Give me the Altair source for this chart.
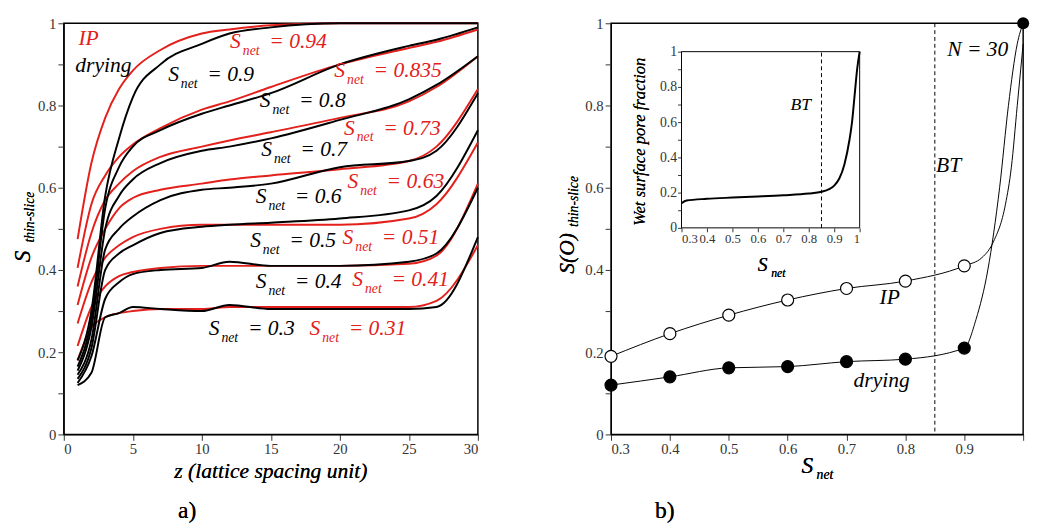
import altair as alt
import pandas as pd

# ---- panel a): S_thin-slice versus z
z = [1, 2, 3, 4, 5, 7, 10, 12, 15, 20, 25, 27, 30]
ip_curves = {
    "0.94": [0.475, 0.66, 0.77, 0.84, 0.885, 0.935, 0.975, 0.985, 0.995, 1, 1, 1, 1],
    "0.835": [0.405, 0.56, 0.63, 0.675, 0.705, 0.745, 0.79, 0.81, 0.845, 0.9, 0.94, 0.955, 0.985],
    "0.73": [0.36, 0.49, 0.57, 0.61, 0.64, 0.675, 0.70, 0.715, 0.735, 0.77, 0.81, 0.845, 0.92],
    "0.63": [0.315, 0.43, 0.5, 0.55, 0.575, 0.595, 0.61, 0.62, 0.63, 0.645, 0.665, 0.7, 0.84],
    "0.51": [0.27, 0.37, 0.43, 0.46, 0.48, 0.5, 0.51, 0.51, 0.51, 0.51, 0.525, 0.56, 0.71],
    "0.41": [0.215, 0.31, 0.36, 0.385, 0.395, 0.405, 0.41, 0.41, 0.41, 0.41, 0.415, 0.435, 0.61],
    "0.31": [0.18, 0.26, 0.285, 0.295, 0.3, 0.305, 0.305, 0.31, 0.31, 0.31, 0.31, 0.325, 0.46],
}
drying_curves = {
    "0.9": [0.18, 0.3, 0.58, 0.72, 0.82, 0.9, 0.95, 0.975, 0.99, 1, 1, 1, 1],
    "0.8": [0.165, 0.28, 0.55, 0.65, 0.7, 0.74, 0.78, 0.80, 0.83, 0.9, 0.945, 0.96, 0.99],
    "0.7": [0.155, 0.26, 0.5, 0.58, 0.62, 0.66, 0.69, 0.70, 0.72, 0.765, 0.815, 0.85, 0.92],
    "0.6": [0.145, 0.23, 0.45, 0.5, 0.53, 0.57, 0.595, 0.6, 0.61, 0.65, 0.665, 0.69, 0.83],
    "0.5": [0.135, 0.21, 0.4, 0.44, 0.46, 0.49, 0.505, 0.51, 0.515, 0.525, 0.545, 0.58, 0.74],
    "0.4": [0.125, 0.19, 0.33, 0.37, 0.39, 0.4, 0.405, 0.42, 0.41, 0.41, 0.42, 0.44, 0.6],
    "0.3": [0.12, 0.15, 0.285, 0.295, 0.31, 0.305, 0.3, 0.315, 0.305, 0.305, 0.305, 0.31, 0.48],
}
label_vals = ["0.94", "0.9", "0.835", "0.8", "0.73", "0.7", "0.63", "0.6",
              "0.51", "0.5", "0.41", "0.4", "0.31", "0.3"]
label_z = [12.05, 7.56, 19.6, 14.2, 20.3, 14.3, 20.55, 13.9, 20.2, 13.5, 20.9, 13.9, 17.8, 10.5]
label_s = [0.956, 0.877, 0.885, 0.813, 0.746, 0.694, 0.615, 0.579, 0.48, 0.472, 0.377, 0.373, 0.258, 0.258]
label_kind = ["IP", "drying"] * 7

# ---- panel b): S(O)_thin-slice versus S_net
s_net = [0.3, 0.4, 0.5, 0.6, 0.7, 0.8, 0.9]
ip_points = [0.19, 0.245, 0.29, 0.327, 0.355, 0.373, 0.41]
drying_points = [0.12, 0.14, 0.162, 0.165, 0.177, 0.183, 0.21]
ip_tail_x = [0.93, 0.95, 0.97, 0.98, 0.99, 1.0]
ip_tail_y = [0.43, 0.47, 0.56, 0.65, 0.8, 0.95]
dry_tail_x = [0.92, 0.94, 0.96, 0.975, 0.99, 1.0]
dry_tail_y = [0.28, 0.4, 0.6, 0.8, 0.95, 1.0]

# ---- inset: wet surface pore fraction
inset_x = [0.3, 0.32, 0.4, 0.5, 0.6, 0.7, 0.8, 0.85, 0.88, 0.9, 0.92, 0.94, 0.96, 0.97, 0.98, 0.99, 1.0]
inset_y = [0.14, 0.155, 0.165, 0.172, 0.178, 0.185, 0.195, 0.205, 0.22, 0.24, 0.28, 0.36, 0.5, 0.6, 0.75, 0.9, 1.0]

RED = "#e3201c"
SERIF = "'Liberation Serif', 'DejaVu Serif', serif"
W_A, H = 423, 420
W_B = 421
tick_label_expr = "abs(datum.value*10 - round(datum.value*5)*2) < 0.01 ? format(datum.value, '~g') : ''"


def y_axis(**kw):
    return alt.Axis(values=[i / 10 for i in range(11)], labelExpr=tick_label_expr,
                    title=None, grid=False, labelOverlap=False, labelFont=SERIF, **kw)


rows = []
for kind, curves in (("IP", ip_curves), ("drying", drying_curves)):
    for name, vals in curves.items():
        rows += [{"kind": kind, "curve": kind + name, "z": zz, "s": v} for zz, v in zip(z, vals)]
curves_df = pd.DataFrame(rows)
color = alt.Color("kind:N", scale=alt.Scale(domain=["IP", "drying"], range=[RED, "black"]), legend=None)

xa = alt.X("z:Q", scale=alt.Scale(domain=[0, 30]),
           axis=alt.Axis(values=[i * 2.5 for i in range(13)], labelOverlap=False, labelFont=SERIF,
                         labelExpr="datum.value % 5 == 0 ? datum.label : ''", title=None, grid=False))
ya = alt.Y("s:Q", scale=alt.Scale(domain=[0, 1]), axis=y_axis())

lines_a = alt.Chart(curves_df).mark_line(strokeWidth=2, interpolate="monotone").encode(
    x=xa, y=ya, color=color, detail="curve:N", order="z:Q")

lab_df = pd.DataFrame({"kind": label_kind, "z": label_z, "s": label_s,
                       "eq": ["= " + v for v in label_vals]})
lab_base = alt.Chart(lab_df).encode(x="z:Q", y="s:Q", color=color)
txt = dict(font=SERIF, fontStyle="italic", align="left", baseline="middle")
labels_a = (lab_base.mark_text(fontSize=22, text="S", **txt)
            + lab_base.mark_text(fontSize=14, text="net", dx=13, dy=10, **txt)
            + lab_base.mark_text(fontSize=22, dx=40, **txt).encode(text="eq:N"))

key_df = pd.DataFrame({"kind": ["IP", "drying"], "z": [1.06, 0.83], "s": [0.964, 0.897]})
key_a = alt.Chart(key_df).mark_text(fontSize=22, **txt).encode(
    x="z:Q", y="s:Q", color=color, text="kind:N")

deco = dict(font=SERIF, fontStyle="italic", color="black")
title_a = (
    alt.Chart(key_df).mark_text(text="z (lattice spacing unit)", fontSize=22, **deco)
    .encode(x=alt.value(W_A / 2), y=alt.value(H + 38))
    + alt.Chart(key_df).mark_text(text="S", fontSize=24, angle=270, **deco)
    .encode(x=alt.value(-42), y=alt.value(H / 2 + 28))
    + alt.Chart(key_df).mark_text(text="thin-slice", fontSize=14, angle=270, **deco)
    .encode(x=alt.value(-34), y=alt.value(H / 2 - 12))
    + alt.Chart(key_df).mark_text(text="a)", fontSize=24, font=SERIF, color="black")
    .encode(x=alt.value(126), y=alt.value(H + 78))
)
panel_a = (lines_a + labels_a + key_a + title_a).properties(width=W_A, height=H)

# ---- panel b
pts_df = pd.DataFrame({"x": s_net * 2, "y": ip_points + drying_points,
                       "kind": ["IP"] * 7 + ["drying"] * 7})
line_df = pd.DataFrame({
    "x": s_net + ip_tail_x + s_net + dry_tail_x,
    "y": ip_points + ip_tail_y + drying_points + dry_tail_y,
    "kind": ["IP"] * 13 + ["drying"] * 13,
})
xb = alt.X("x:Q", scale=alt.Scale(domain=[0.3, 1]),
           axis=alt.Axis(values=[0.3 + i * 0.05 for i in range(15)], labelOverlap=False, labelFont=SERIF,
                         labelExpr="abs(datum.value*10 - round(datum.value*10)) < 0.01 && datum.value < 0.95 ? format(datum.value, '.1f') : ''",
                         title=None, grid=False))
yb = alt.Y("y:Q", scale=alt.Scale(domain=[0, 1]), axis=y_axis())
lines_b = alt.Chart(line_df).mark_line(color="black", strokeWidth=1, interpolate="monotone").encode(
    x=xb, y=yb, detail="kind:N")
pts_b = alt.Chart(pts_df).mark_point(size=150, strokeWidth=1.2, opacity=1, color="black").encode(
    x="x:Q", y="y:Q",
    fill=alt.Fill("kind:N", scale=alt.Scale(domain=["IP", "drying"], range=["white", "black"]), legend=None))
top_pt = alt.Chart(pd.DataFrame({"x": [1.0], "y": [1.0]})).mark_circle(size=150, color="black", opacity=1).encode(
    x="x:Q", y="y:Q")
bt_b = alt.Chart(pd.DataFrame({"x": [0.85]})).mark_rule(strokeDash=[4, 3], color="black").encode(x="x:Q")
text_b_df = pd.DataFrame({"x": [0.871, 0.852, 0.756, 0.712], "y": [0.937, 0.655, 0.333, 0.131],
                          "t": ["N = 30", "BT", "IP", "drying"]})
text_b = alt.Chart(text_b_df).mark_text(fontSize=22, **txt).encode(
    x="x:Q", y="y:Q", text="t:N", color=alt.value("black"))
title_b = (
    alt.Chart(key_df).mark_text(text="S", fontSize=24, **deco).encode(x=alt.value(W_B / 2 - 10), y=alt.value(H + 32))
    + alt.Chart(key_df).mark_text(text="net", fontSize=14, **deco).encode(x=alt.value(W_B / 2 + 8), y=alt.value(H + 42))
    + alt.Chart(key_df).mark_text(text="S(O)", fontSize=22, angle=270, **deco).encode(x=alt.value(-45), y=alt.value(H / 2 + 25))
    + alt.Chart(key_df).mark_text(text="thin-slice", fontSize=14, angle=270, **deco).encode(x=alt.value(-38), y=alt.value(H / 2 - 28))
    + alt.Chart(key_df).mark_text(text="b)", fontSize=24, font=SERIF, color="black").encode(x=alt.value(55), y=alt.value(H + 78))
)
main_b = lines_b + pts_b + top_pt + bt_b + text_b + title_b

# ---- inset, drawn with its own scales inside panel b
IX0, IX1, IY0, IY1 = 72, 254, 29, 209
inset_df = pd.DataFrame({"x": inset_x, "y": inset_y})
xi = alt.X("x:Q", scale=alt.Scale(domain=[0.3, 1], range=[IX0, IX1]),
           axis=alt.Axis(orient="bottom", offset=-(H - IY1), values=[0.3 + i * 0.05 for i in range(15)],
                         labelExpr="abs(datum.value*10 - round(datum.value*10)) < 0.01 ? format(datum.value, '~g') : ''",
                         title=None, grid=False, labelFont=SERIF, labelFontSize=13, domain=False,
                         labelPadding=1, labelOverlap=False, tickSize=4))
yi = alt.Y("y:Q", scale=alt.Scale(domain=[0, 1], range=[IY1, IY0]),
           axis=alt.Axis(orient="left", offset=-IX0, values=[i / 10 for i in range(11)],
                         labelExpr=tick_label_expr, title=None, grid=False, labelOverlap=False,
                         labelFont=SERIF, labelFontSize=14, domain=False, labelPadding=1, tickSize=4))
inset_line = alt.Chart(inset_df).mark_line(color="black", strokeWidth=2, interpolate="monotone").encode(x=xi, y=yi)
inset_box = alt.Chart(pd.DataFrame({"x": [0.3], "x2": [1.0], "y": [0.0], "y2": [1.0]})).mark_rect(
    fill=None, stroke="black", strokeWidth=1).encode(x="x:Q", x2="x2:Q", y="y:Q", y2="y2:Q")
inset_bt = alt.Chart(pd.DataFrame({"x": [0.85], "y": [0.0], "y2": [1.0]})).mark_rule(
    strokeDash=[4, 3], color="black").encode(x="x:Q", y="y:Q", y2="y2:Q")
inset_text = (
    alt.Chart(pd.DataFrame({"x": [0.728], "y": [0.698]})).mark_text(text="BT", fontSize=18, **txt).encode(x="x:Q", y="y:Q", color=alt.value("black"))
    + alt.Chart(key_df).mark_text(text="Wet surface pore fraction", fontSize=17, angle=270, **deco).encode(x=alt.value(IX0 - 42), y=alt.value((IY0 + IY1) / 2 + 2))
    + alt.Chart(key_df).mark_text(text="S", fontSize=20, **deco).encode(x=alt.value((IX0 + IX1) / 2 - 8), y=alt.value(IY1 + 38))
    + alt.Chart(key_df).mark_text(text="net", fontSize=12, **deco).encode(x=alt.value((IX0 + IX1) / 2 + 8), y=alt.value(IY1 + 46))
)
inset = alt.layer(inset_line, inset_box, inset_bt, inset_text)

panel_b = alt.layer(main_b, inset).resolve_scale(x="independent", y="independent").properties(width=W_B, height=H)

chart = alt.hconcat(panel_a, panel_b, spacing=74).configure(font=SERIF).configure_text(
    font=SERIF
).configure_view(
    stroke="black", strokeWidth=1.5
).configure_axis(
    labelFont=SERIF, labelFontSize=15, labelColor="#333", tickColor="#333", domainColor="black",
    tickSize=6, labelPadding=2
).properties(padding={"left": 2, "top": 2, "right": 0, "bottom": 0})

chart.save("out.html", embed_options={"renderer": "svg", "actions": False})
